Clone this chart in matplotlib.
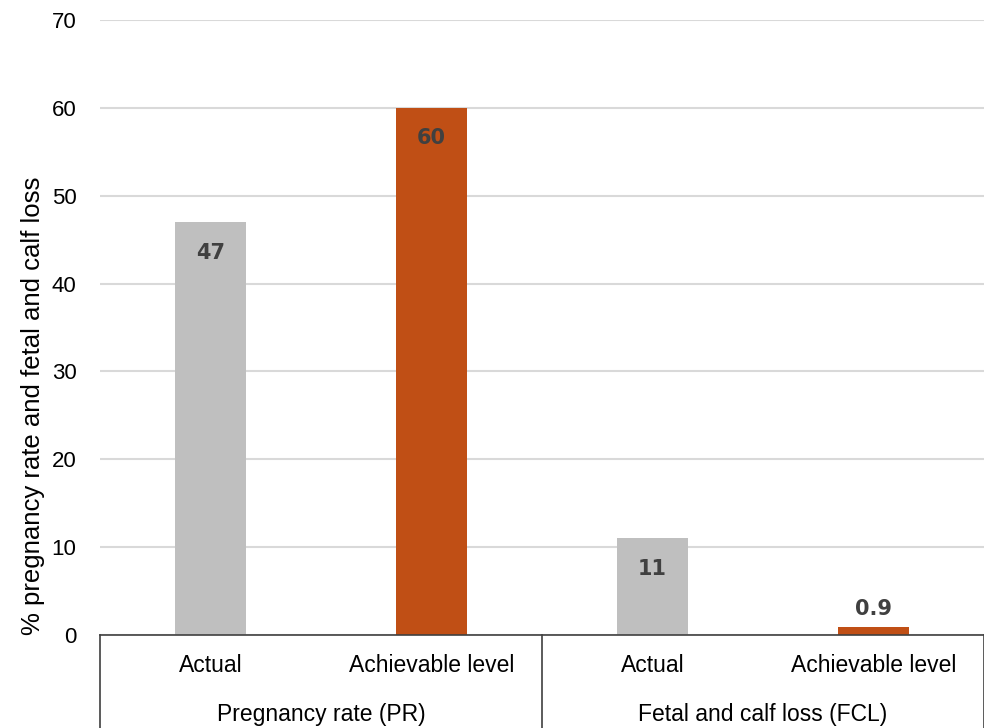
import matplotlib.pyplot as plt
import numpy as np

# data
groups = ['Pregnancy rate (PR)', 'Fetal and calf loss (FCL)']
levels = ['Actual', 'Achievable level', 'Actual', 'Achievable level']
values = [47, 60, 11, 0.9]
value_labels = ['47', '60', '11', '0.9']
colors = ['#BFBFBF', '#C04F15', '#BFBFBF', '#C04F15']

plt.rcParams['font.family'] = ['Liberation Sans', 'DejaVu Sans']

fig = plt.figure(figsize=(9.84, 7.28), dpi=100)
ax = fig.add_axes([100/984, 93/728, 884/984, 615/728])

x = np.arange(len(values))
bars = ax.bar(x, values, width=0.317, color=colors, zorder=2)

# data labels, inside the end of the bar unless the bar is too short
for rect, v, lab in zip(bars, values, value_labels):
    cx = rect.get_x() + rect.get_width() / 2
    off = -22 if v > 5 else 13
    ax.annotate(lab, (cx, v), xytext=(0, off), textcoords='offset points',
                ha='center', va='center', fontsize=15, fontweight='bold',
                color='#404040', family='DejaVu Sans')

ax.set_xlim(-0.5, len(values) - 0.5)
ax.set_ylim(0, 70)
ax.set_yticks(range(0, 71, 10))
ax.yaxis.grid(True, color='#D9D9D9', linewidth=1.5, zorder=0)
ax.tick_params(axis='y', length=0, pad=17, labelsize=16)
ax.tick_params(axis='x', length=0, labelbottom=False)
for s in ['top', 'right', 'left']:
    ax.spines[s].set_visible(False)
ax.spines['bottom'].set_color('#404040')
ax.spines['bottom'].set_linewidth(1.2)

# level labels and group labels under the axis
for i, lab in enumerate(levels):
    ax.text(i, -3.5, lab, ha='center', va='center', fontsize=16.5, clip_on=False)
for g, lab in enumerate(groups):
    ax.text(2 * g + 0.5, -9.0, lab, ha='center', va='center', fontsize=16.5, clip_on=False)

# separator lines of the category table
for xs in [-0.5, 1.5, 3.5]:
    ax.plot([xs, xs], [0, -12], color='#404040', linewidth=1.2, clip_on=False)

fig.text(33/984, (728 - 406)/728, '% pregnancy rate and fetal and calf loss',
         rotation=90, ha='center', va='center', fontsize=18.5)

plt.savefig('out.png', dpi=100)
